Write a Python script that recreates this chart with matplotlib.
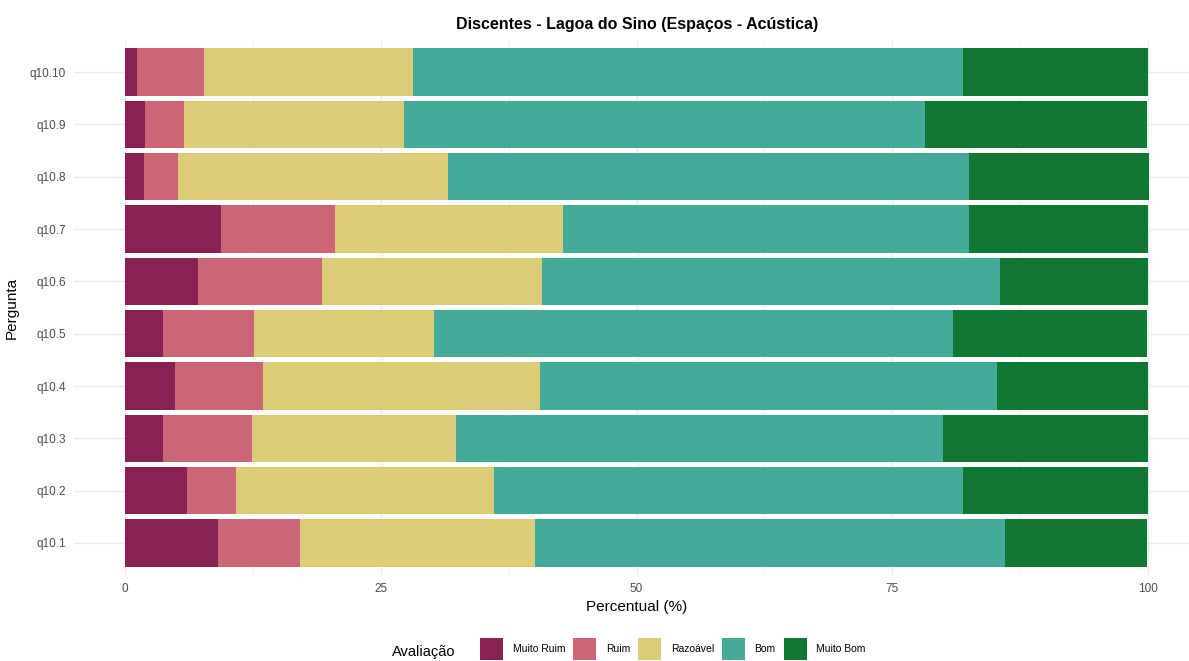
import numpy as np
import matplotlib.pyplot as plt
from matplotlib.patches import Patch

plt.rcParams["font.family"] = ["Liberation Sans", "DejaVu Sans"]

# ---------------------------------------------------------------------------
# Data (percent per answer)
# ---------------------------------------------------------------------------
questions = ["q10.1", "q10.2", "q10.3", "q10.4", "q10.5",
             "q10.6", "q10.7", "q10.8", "q10.9", "q10.10"]
categories = ["Muito Ruim", "Ruim", "Razoável", "Bom", "Muito Bom"]

muito_ruim = [9.1, 6.0, 3.7, 4.9, 3.7, 7.1, 9.4, 1.8, 1.9, 1.2]
ruim = [8.0, 4.8, 8.7, 8.6, 8.9, 12.1, 11.1, 3.4, 3.9, 6.5]
razoavel = [23.0, 25.3, 20.0, 27.1, 17.6, 21.6, 22.3, 26.4, 21.5, 20.4]
bom = [45.9, 45.8, 47.6, 44.6, 50.7, 44.7, 39.7, 50.9, 50.9, 53.8]
muito_bom = [13.9, 18.1, 20.0, 14.8, 19.0, 14.5, 17.5, 17.6, 21.7, 18.1]

colors = ["#882255", "#CC6677", "#DDCC77", "#44AA99", "#117733"]

# ---------------------------------------------------------------------------
# Plot
# ---------------------------------------------------------------------------
fig = plt.figure(figsize=(11.89, 6.61), dpi=100)
ax = fig.add_axes([74 / 1189, 86.6 / 661, 1125 / 1189, 533.8 / 661])

y = np.arange(1, len(questions) + 1)
series = [muito_ruim, ruim, razoavel, bom, muito_bom]
left = np.zeros(len(questions))
for vals, color, name in zip(series, colors, categories):
    vals = np.array(vals)
    ax.barh(y, vals, left=left, height=0.9, color=color, label=name, zorder=2)
    left += vals

ax.set_xlim(-5, 105)
ax.set_ylim(0.4, 10.6)
ax.set_yticks(y)
ax.set_yticklabels(questions)
ax.set_xticks([0, 25, 50, 75, 100])
ax.set_xticks([12.5, 37.5, 62.5, 87.5], minor=True)

ax.grid(True, which="major", color="#EBEBEB", linewidth=1.0, zorder=0)
ax.grid(True, which="minor", axis="x", color="#F2F2F2", linewidth=0.7, zorder=0)
ax.set_axisbelow(True)
for spine in ax.spines.values():
    spine.set_visible(False)
ax.tick_params(which="both", length=0, labelsize=8.5, labelcolor="#4D4D4D", pad=6)

ax.set_xlabel("Percentual (%)", fontsize=11, labelpad=4)
ax.set_ylabel("Pergunta", fontsize=11, labelpad=8)

fig.text(0.536, 1 - 25 / 661, "Discentes - Lagoa do Sino (Espaços - Acústica)",
         ha="center", va="center", fontsize=11.5, fontweight="bold")

# Legend with title on the left, ggplot style
fig.text(455 / 1189, 1 - 652 / 661, "Avaliação", ha="right", va="center", fontsize=10.5)
handles = [Patch(facecolor=c, edgecolor="none") for c in colors]
fig.legend(handles, categories, loc="center", ncol=5,
           bbox_to_anchor=(673 / 1189, 1 - 649 / 661), frameon=False,
           fontsize=7.5, handlelength=2.2, handleheight=2.9,
           handletextpad=0.9, columnspacing=0.8, borderpad=0)

fig.savefig("out.png", dpi=100)
